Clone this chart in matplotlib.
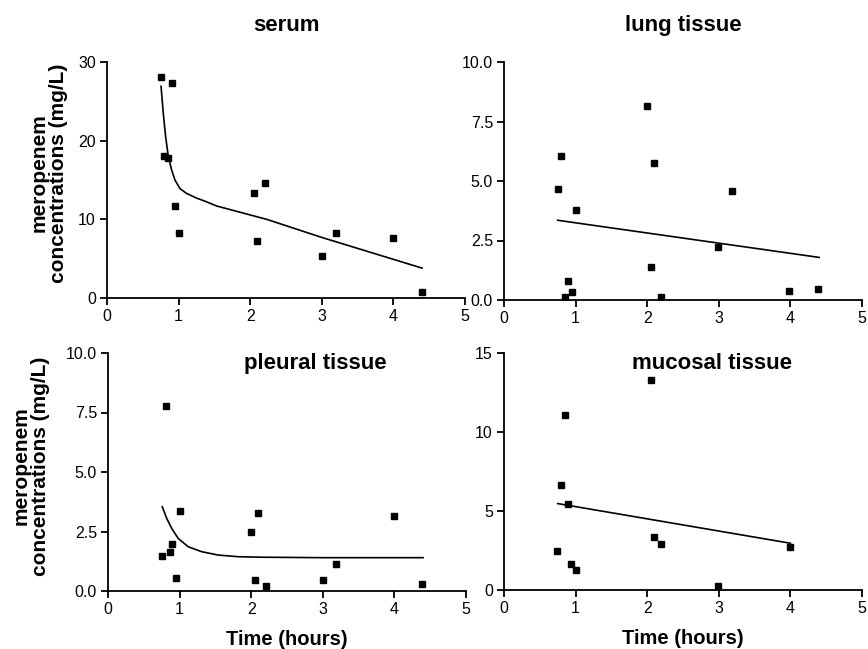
import numpy as np
import matplotlib
matplotlib.use("Agg")
import matplotlib.pyplot as plt
from matplotlib.ticker import FormatStrFormatter

plt.rcParams["font.family"] = ["Liberation Sans", "DejaVu Sans"]

# ---- data ----
serum_t = [0.76, 0.80, 0.85, 0.91, 0.95, 1.00, 2.06, 2.10, 2.21, 3.00, 3.20, 4.00, 4.40]
serum_c = [28.1, 18.0, 17.8, 27.3, 11.7, 8.3, 13.4, 7.2, 14.6, 5.3, 8.2, 7.6, 0.7]
serum_fit_t = [0.755, 0.786, 0.819, 0.856, 0.902, 0.949, 1.02, 1.11, 1.25, 1.37, 1.53,
               2.23, 3.00, 4.40]
serum_fit_c = [26.9, 23.5, 20.5, 18.0, 16.3, 15.0, 13.9, 13.3, 12.7, 12.3, 11.7,
               10.0, 7.7, 3.8]

lung_t = [0.75, 0.80, 0.85, 0.90, 0.95, 1.00, 2.00, 2.05, 2.09, 2.19, 2.99, 3.19, 3.98, 4.38]
lung_c = [4.65, 6.06, 0.13, 0.81, 0.35, 3.77, 8.17, 1.37, 5.76, 0.14, 2.23, 4.57, 0.38, 0.45]
lung_fit_t = [0.75, 4.40]
lung_fit_c = [3.35, 1.79]

pleural_t = [0.75, 0.81, 0.86, 0.90, 0.95, 1.01, 2.00, 2.06, 2.10, 2.20, 3.00, 3.19, 3.99, 4.38]
pleural_c = [1.49, 7.79, 1.64, 1.99, 0.55, 3.36, 2.46, 0.48, 3.26, 0.22, 0.46, 1.15, 3.15, 0.31]
pleural_fit_t = [0.758, 0.82, 0.89, 0.98, 1.12, 1.31, 1.54, 1.82, 2.15, 3.00, 4.40]
pleural_fit_c = [3.54, 3.05, 2.63, 2.21, 1.86, 1.65, 1.51, 1.44, 1.42, 1.40, 1.40]

mucosal_t = [0.74, 0.79, 0.85, 0.89, 0.94, 1.00, 2.05, 2.09, 2.19, 2.99, 4.00]
mucosal_c = [2.47, 6.63, 11.07, 5.43, 1.65, 1.27, 13.29, 3.34, 2.94, 0.27, 2.75]
mucosal_fit_t = [0.75, 4.00]
mucosal_fit_c = [5.47, 2.96]

fig = plt.figure(figsize=(8.68, 6.49), dpi=100)
W, H = 868, 649


def make_ax(x0, x1, ytop, ybot):
    return fig.add_axes([x0 / W, 1 - ybot / H, (x1 - x0) / W, (ybot - ytop) / H])


# ylabel anchor (axes coords) per panel, None = no label
panels = [
    (make_ax(107, 465, 62, 298), serum_t, serum_c, serum_fit_t, serum_fit_c,
     30, [0, 10, 20, 30], "%d", "serum", "out", (-0.109, 0.53), False),
    (make_ax(504, 862, 62, 300), lung_t, lung_c, lung_fit_t, lung_fit_c,
     10, [0, 2.5, 5, 7.5, 10], "%.1f", "lung tissue", "out", None, False),
    (make_ax(108, 466, 353, 591), pleural_t, pleural_c, pleural_fit_t, pleural_fit_c,
     10, [0, 2.5, 5, 7.5, 10], "%.1f", "pleural tissue", "in", (-0.162, 0.525), True),
    (make_ax(504, 862, 353, 590), mucosal_t, mucosal_c, mucosal_fit_t, mucosal_fit_c,
     15, [0, 5, 10, 15], "%d", "mucosal tissue", "in", None, True),
]

for ax, t, c, ft, fc, ymax, yt, fmt, title, tpos, ylab, xlab in panels:
    ax.plot(ft, fc, color="black", lw=1.2, zorder=2, solid_joinstyle="round")
    ax.plot(t, c, ls="none", marker="s", ms=4.2, color="black", zorder=3)
    ax.set_xlim(0, 5)
    ax.set_ylim(0, ymax)
    ax.set_xticks(range(6))
    ax.set_yticks(yt)
    ax.yaxis.set_major_formatter(FormatStrFormatter(fmt))
    for s in ("top", "right"):
        ax.spines[s].set_visible(False)
    for s in ("left", "bottom"):
        ax.spines[s].set_linewidth(1.3)
    ax.tick_params(direction="out", length=5, width=1.3, labelsize=11.5, pad=3)
    if tpos == "out":
        ax.set_title(title, fontsize=16, fontweight="bold", pad=22)
    else:
        ax.text(0.58, 0.955, title, transform=ax.transAxes, ha="center", va="center",
                fontsize=16, fontweight="bold")
    if ylab:
        ax.set_ylabel("meropenem\nconcentrations (mg/L)", fontsize=15,
                      fontweight="bold", linespacing=1.0)
        ax.yaxis.set_label_coords(*ylab)
    if xlab:
        ax.set_xlabel("Time (hours)", fontsize=14.5, fontweight="bold")
        ax.xaxis.set_label_coords(0.5, -0.205)
        ax.xaxis.label.set_va("center")

fig.savefig("out.png", dpi=100)
